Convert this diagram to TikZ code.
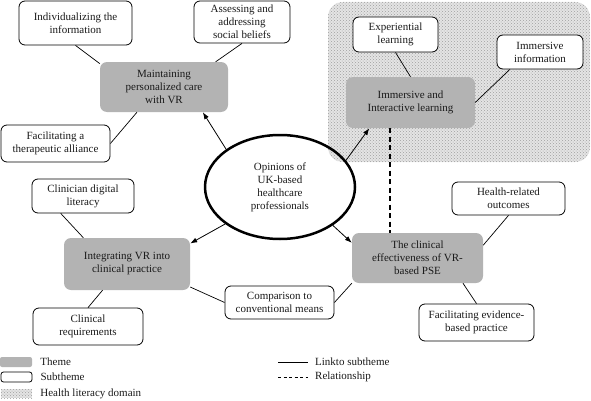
\documentclass[tikz,border=0pt]{standalone}
\usepackage{fontspec}
\setmainfont{Liberation Serif}
\usetikzlibrary{calc,positioning,shapes.geometric,patterns,arrows.meta}
\definecolor{themegrey}{HTML}{B3B3B3}
\definecolor{domaingrey}{HTML}{E4E4E4}
\definecolor{black90}{HTML}{1A1A1A}
\tikzset{
  every node/.style={font=\fontsize{11}{13}\selectfont, text=black90},
  theme/.style={fill=themegrey, rounded corners=7pt, align=center, inner sep=1pt},
  subtheme/.style={draw, fill=white, line width=0.8pt, rounded corners=6pt, align=center, inner sep=1pt},
  opinion/.style={draw, ellipse, line width=2.5pt, align=center, inner sep=0pt,
    minimum width=150pt, minimum height=104pt},
  litdomain/.style={fill=domaingrey, postaction={pattern=crosshatch dots, pattern color=gray!75}},
  link/.style={line width=0.7pt},
  pointer/.style={line width=0.8pt, -{Latex[length=7pt,width=5pt]}},
  relation/.style={line width=1.4pt, dash pattern=on 5pt off 3.5pt},
  key/.style={inner sep=0pt, anchor=west},
}

\begin{document}
\begin{tikzpicture}[x=1pt,y=1pt]
  \useasboundingbox (0,0) rectangle (591,400);
  \path[litdomain, rounded corners=15pt] (328,238) rectangle (590,398);

  \node[opinion] (opin) at (280,213) {Opinions of\\UK-based\\healthcare\\professionals};

  \node[theme, minimum width=128pt, minimum height=50pt] (maint) at (164,313)
    {Maintaining\\personalized care\\with VR};
  \node[theme, minimum width=129pt, minimum height=51pt] (immer) at (410.5,297.5)
    {Immersive and\\Interactive learning};
  \node[theme, minimum width=126pt, minimum height=52pt] (integ) at (127,136)
    {Integrating VR into\\clinical practice};
  \node[theme, minimum width=131pt, minimum height=50pt] (effect) at (417.5,142)
    {The clinical\\effectiveness of VR-\\based PSE};

  \node[subtheme, minimum width=113pt, minimum height=44pt] (indiv) at (75.5,377)
    {Individualizing the\\information};
  \node[subtheme, minimum width=96pt, minimum height=42pt] (social) at (242,378)
    {Assessing and\\addressing\\social beliefs};
  \node[subtheme, minimum width=109pt, minimum height=37pt] (allian) at (55.5,256.5)
    {Facilitating a\\therapeutic alliance};
  \node[subtheme, minimum width=85pt, minimum height=35pt] (exper) at (395.5,365.5)
    {Experiential\\learning};
  \node[subtheme, minimum width=86pt, minimum height=34pt] (imminfo) at (540,348)
    {Immersive\\information};
  \node[subtheme, minimum width=102pt, minimum height=34pt] (digital) at (83,204)
    {Clinician digital\\literacy};
  \node[subtheme, minimum width=110pt, minimum height=37pt] (require) at (88,73.5)
    {Clinical\\requirements};
  \node[subtheme, minimum width=109pt, minimum height=33pt] (compar) at (279.5,97.5)
    {Comparison to\\conventional means};
  \node[subtheme, minimum width=113pt, minimum height=33pt] (health) at (508.5,201.5)
    {Health-related\\outcomes};
  \node[subtheme, minimum width=115pt, minimum height=37pt] (evid) at (476.5,77.5)
    {Facilitating evidence-\\based practice};

  \draw[link] (indiv.south) -- (maint.160);
  \draw[link] (social.south) -- (maint.26);
  \draw[link] (allian.east) -- (maint.223);
  \draw[link] (exper.south) -- (immer.north);
  \draw[link] (imminfo.210) -- (immer.east);
  \draw[link] (digital.218) -- (integ.149);
  \draw[link] (require.north) -- (integ.227);
  \draw[link] (integ.-20) -- (compar.west);
  \draw[link] (compar.east) -- (effect.201);
  \draw[link] (health.south) -- (effect.11);
  \draw[link] (evid.north) -- (effect.-29);

  \draw[pointer] (opin.145) -- (maint.-33);
  \draw[pointer] (opin.22) -- (immer.212);
  \draw[pointer] (opin.214) -- (integ.18);
  \draw[pointer] (opin.-36) -- (effect.167);

  \draw[relation] ($(immer.south)+(-20.5,0)$) coordinate (dtop) -- (dtop |- effect.north);

  % legend
  \node[theme, rounded corners=2pt, minimum width=32pt, minimum height=10pt, inner sep=0pt] (keytheme) at (16,38) {};
  \node[subtheme, rounded corners=2.5pt, minimum width=31pt, minimum height=10pt, inner sep=0pt] (keysub) at (16.5,23) {};
  \node[litdomain, minimum width=31pt, minimum height=9pt, inner sep=0pt] (keydomain) at (16.5,6.5) {};
  \node[key, right=8pt of keytheme] {Theme};
  \node[key, right=8pt of keysub] {Subtheme};
  \node[key, right=8pt of keydomain] {Health literacy domain};

  \coordinate (linka) at (278,38);
  \coordinate (linkb) at (308,38);
  \coordinate (rela) at (278,23);
  \coordinate (relb) at (308,23);
  \draw[link] (linka) -- (linkb);
  \draw[relation, line width=0.7pt, dash pattern=on 3pt off 2.5pt] (rela) -- (relb);
  \node[key, right=7pt of linkb] {Linkto subtheme};
  \node[key, right=7pt of relb] {Relationship};
\end{tikzpicture}
\end{document}
